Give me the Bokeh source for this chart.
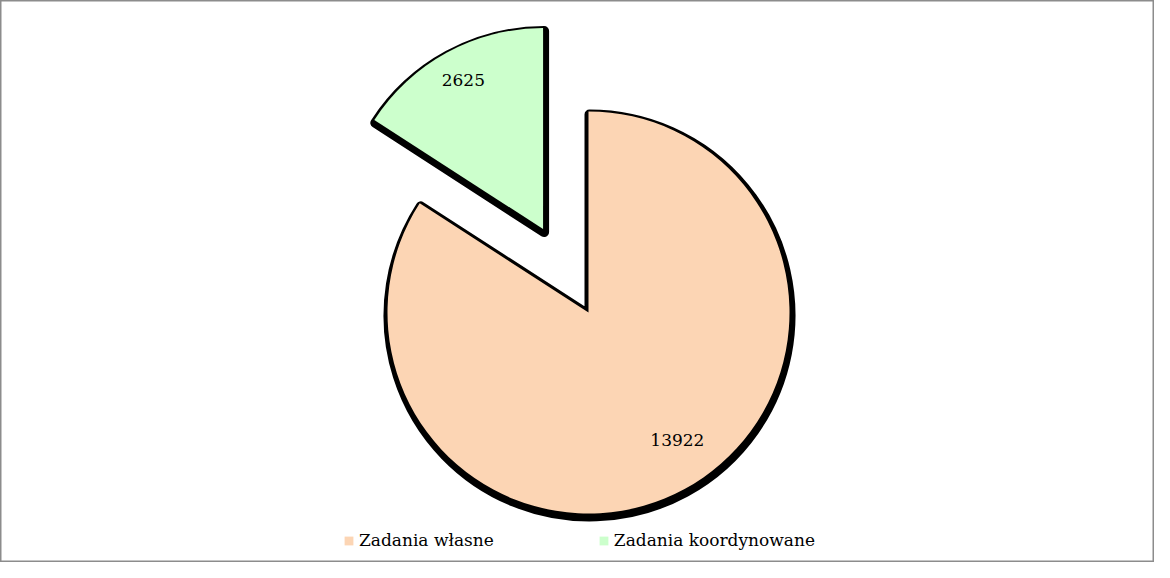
import math
from bokeh.plotting import figure
from bokeh.models import Range1d, Legend, LegendItem, ColumnDataSource
from bokeh.core.properties import value
from bokeh.embed import file_html
from bokeh.resources import INLINE

categories = ["Zadania własne", "Zadania koordynowane"]
values = [13922, 2625]
colors = ["#FCD5B4", "#CCFFCC"]
explode = [0, 95]

W, H = 1154, 562
p = figure(width=W, height=H, output_backend="svg", toolbar_location=None,
           x_range=Range1d(8, 8 + W), y_range=Range1d(8, 8 + H),
           min_border=0, outline_line_color="#8c8c8c", outline_line_width=2)
p.axis.visible = False
p.grid.visible = False

cx, cy, r = 596, 258, 201
total = sum(values)
cum = 0.0
rows = []
for cat, v, c, ex in zip(categories, values, colors, explode):
    a0 = cum / total * 2 * math.pi
    cum += v
    a1 = cum / total * 2 * math.pi
    start = math.pi / 2 - a1
    end = math.pi / 2 - a0
    mid = (start + end) / 2
    x = cx + ex * math.cos(mid)
    y = cy + ex * math.sin(mid)
    rows.append(dict(cat=cat, v=v, c=c, x=x, y=y, start=start, end=end, mid=mid))

src = ColumnDataSource(dict(
    sx=[d["x"] + 1 for d in rows], sy=[d["y"] - 3 for d in rows],
    start=[d["start"] for d in rows], end=[d["end"] for d in rows],
))

# shadow
p.wedge(x="sx", y="sy", radius=r, start_angle="start", end_angle="end", source=src,
        fill_color="black", line_color="black", line_width=10, line_join="round")

renderers = []
for i, d in enumerate(rows):
    rr = p.wedge(x=d["x"], y=d["y"], radius=r, start_angle=d["start"], end_angle=d["end"],
                 fill_color=d["c"], line_color=None)
    renderers.append(rr)

# labels
lab_frac = [0.8, 0.83]
xo = [12, 0]
yo = [-14, -3]
for i, d in enumerate(rows):
    lx = d["x"] + lab_frac[i] * r * math.cos(d["mid"])
    ly = d["y"] + lab_frac[i] * r * math.sin(d["mid"])
    p.text(x=[lx], y=[ly], text=[str(d["v"])], text_align="center", text_baseline="middle",
           text_font=value("DejaVu Serif"), text_font_size="17px", text_color="black",
           x_offset=xo[i], y_offset=yo[i])

legend = Legend(items=[LegendItem(label=categories[i], renderers=[renderers[i]]) for i in range(2)],
                orientation="horizontal", location=(343, 12), padding=0, margin=0,
                spacing=104, glyph_width=11, glyph_height=11, label_standoff=5,
                label_text_font="DejaVu Serif", label_text_font_size="17px",
                label_text_color="black", border_line_color=None,
                background_fill_alpha=0)
p.add_layout(legend)

open("out.html", "w").write(file_html(p, INLINE))
